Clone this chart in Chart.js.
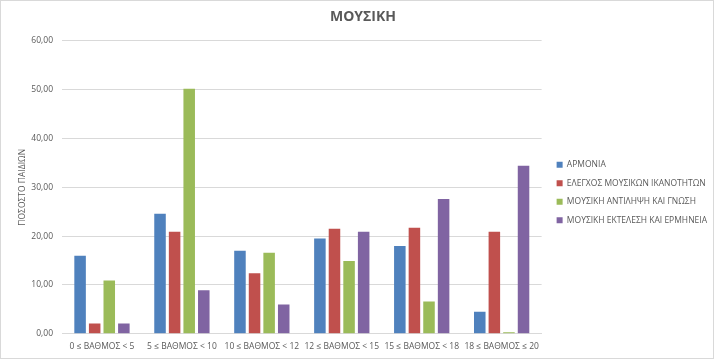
<!DOCTYPE html>
<html><head><meta charset="utf-8">
<script src="https://cdn.jsdelivr.net/npm/chart.js@4/dist/chart.umd.min.js"></script>
<style>
html,body{margin:0;padding:0;background:#fff;}
#wrap{width:714px;height:359px;box-sizing:border-box;border:1px solid #d9d9d9;position:relative;}
canvas{display:block;}
</style></head><body>
<div id="wrap"><canvas id="c" width="712" height="357"></canvas></div>
<script>
const categories = ["0 ≤ ΒΑΘΜΟΣ < 5","5 ≤ ΒΑΘΜΟΣ < 10","10 ≤ ΒΑΘΜΟΣ < 12","12 ≤ ΒΑΘΜΟΣ < 15","15 ≤ ΒΑΘΜΟΣ < 18","18 ≤ ΒΑΘΜΟΣ ≤ 20"];
const seriesNames = ["ΑΡΜΟΝΙΑ","ΕΛΕΓΧΟΣ ΜΟΥΣΙΚΩΝ ΙΚΑΝΟΤΗΤΩΝ","ΜΟΥΣΙΚΗ ΑΝΤΙΛΗΨΗ ΚΑΙ ΓΝΩΣΗ","ΜΟΥΣΙΚΗ ΕΚΤΕΛΕΣΗ ΚΑΙ ΕΡΜΗΝΕΙΑ"];
const armonia   = [16.0, 24.6, 17.0, 19.5, 18.0, 4.5];
const elegxos   = [2.1, 20.9, 12.4, 21.5, 21.7, 20.9];
const antilipsi = [10.9, 50.2, 16.6, 14.9, 6.6, 0.3];
const ektelesi  = [2.1, 8.9, 6.0, 20.9, 27.6, 34.4];
const colors = ["#4F81BD","#C0504D","#9BBB59","#8064A2"];
const FONT = "'Open Sans', sans-serif";
const seriesValues = [armonia, elegxos, antilipsi, ektelesi];
const legendShift = {
  id:'legendShift',
  afterLayout(chart){
    const l = chart.legend; if(!l) return;
    l.top += 12; l.bottom += 12; l.left += 5; l.right += 5;
  }
};
new Chart(document.getElementById('c'), {
  type: 'bar',
  data: {
    labels: categories,
    datasets: seriesValues.map((v,i)=>({label: seriesNames[i], data: v, backgroundColor: colors[i], borderWidth:0, barPercentage:0.79, categoryPercentage:0.73}))
  },
  options: {
    responsive:false, animation:false,
    layout:{padding:{left:13,right:1,top:8,bottom:6}},
    plugins:{
      title:{display:true,text:"ΜΟΥΣΙΚΗ",color:"#595959",font:{family:FONT,size:14,weight:'bold'},padding:{top:0,bottom:15}},
      legend:{position:'right',labels:{color:"#595959",font:{family:FONT,size:8.5},boxWidth:6,boxHeight:6,padding:10}},
      tooltip:{enabled:false}
    },
    scales:{
      x:{grid:{display:false},border:{color:"#d9d9d9"},ticks:{color:"#595959",font:{family:FONT,size:8.5},padding:0,maxRotation:0,autoSkip:false}},
      y:{min:0,max:60,afterFit:(s)=>{s.width=48;},
         ticks:{stepSize:10,color:"#595959",font:{family:FONT,size:8.5},padding:9,callback:v=>v.toFixed(2).replace('.',',')},
         grid:{color:"#d9d9d9",drawTicks:false},border:{display:false},
         title:{display:true,text:"ΠΟΣΟΣΤΟ ΠΑΙΔΙΩΝ",color:"#595959",font:{family:FONT,size:8.5},padding:{top:3,bottom:0}}}
    }
  },
  plugins:[legendShift]
});
</script></body></html>
